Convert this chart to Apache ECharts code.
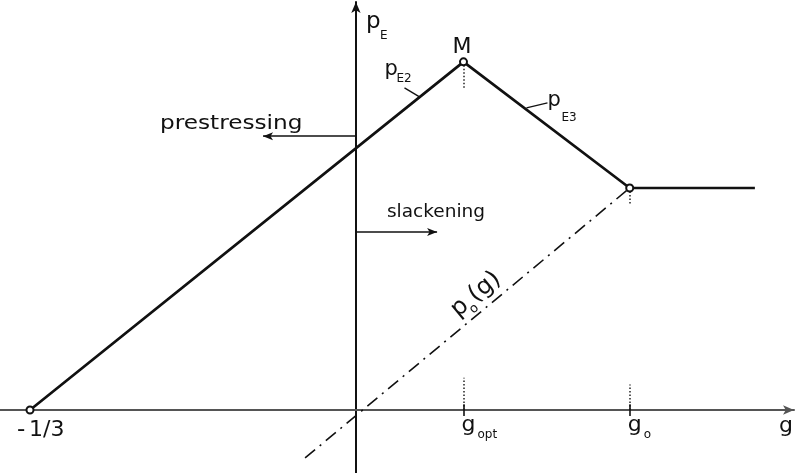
<!DOCTYPE html>
<html>
<head>
<meta charset="utf-8">
<script src="https://cdn.jsdelivr.net/npm/echarts@6/dist/echarts.min.js"></script>
<style>
  html, body { margin: 0; padding: 0; background: #fff; }
  #chart { width: 795px; height: 473px; }
</style>
</head>
<body>
<div id="chart"></div>
<script>
// Effective prestress p_E as a function of the slackness g
const gKnots = [-1 / 3, 0.110, 0.280, 0.408];   // -1/3, g_opt, g_o, end of plateau
const pKnots = [0, 0.356, 0.227, 0.227];

// reference line p_o(g) (dash-dot)
const p0G = [-0.052, 0.280];
const p0P = [-0.049, 0.227];

// axis extents
const gRange = [-0.364, 0.448];
const pRange = [-0.0644, 0.4172];

// marked abscissae and their labels
const tickG = [-1 / 3, 0.110, 0.280];
const tickMain = ['-1/3', 'g', 'g'];
const tickSub = ['', 'opt', 'o'];

// direction arrows: level on the p axis and length along g
const prestressArrow = { p: 0.280, g: -0.095, text: 'prestressing' };
const slackArrow = { p: 0.182, g: 0.083, text: 'slackening' };

// short dotted guides at g_opt and g_o
const guideUp = [0.033, 0.026];       // height above the g axis
const guideDown = [0.027, 0.018];     // drop below M / the knee

const FONT = '"DejaVu Sans", sans-serif';
const INK = '#111';

const chart = echarts.init(document.getElementById('chart'), null, { renderer: 'canvas' });

function seg(a, b) {
  return [{ coord: a, symbol: 'none' }, { coord: b, symbol: 'none' }];
}

const markData = [
  seg([gKnots[1], 0], [gKnots[1], guideUp[0]]),
  seg([gKnots[2], 0], [gKnots[2], guideUp[1]]),
  seg([gKnots[1], pKnots[1]], [gKnots[1], pKnots[1] - guideDown[0]]),
  seg([gKnots[2], pKnots[2]], [gKnots[2], pKnots[2] - guideDown[1]])
];

const arrows = [
  [{ coord: [0, prestressArrow.p], symbol: 'none' }, { coord: [prestressArrow.g, prestressArrow.p], symbol: 'arrow' }],
  [{ coord: [0, slackArrow.p], symbol: 'none' }, { coord: [slackArrow.g, slackArrow.p], symbol: 'arrow' }]
];

const tickMarks = tickG.slice(1).map(g => seg([g, -0.006], [g, 0.006]));

const option = {
  animation: false,
  backgroundColor: '#fff',
  grid: { left: 0, right: 1, top: 2, bottom: 0, containLabel: false },
  xAxis: {
    type: 'value', min: gRange[0], max: gRange[1],
    axisLine: { onZero: true, symbol: ['none', 'arrow'], symbolSize: [7, 11],
      lineStyle: { color: '#555', width: 2 } },
    axisTick: { show: false }, axisLabel: { show: false }, splitLine: { show: false }
  },
  yAxis: {
    type: 'value', min: pRange[0], max: pRange[1],
    axisLine: { onZero: true, symbol: ['none', 'arrow'], symbolSize: [7, 11],
      lineStyle: { color: '#111', width: 2 } },
    axisTick: { show: false }, axisLabel: { show: false }, splitLine: { show: false }
  },
  series: [
    {
      type: 'line',
      data: gKnots.map((g, i) => ({ value: [g, pKnots[i]], symbol: i < 3 ? 'emptyCircle' : 'none' })),
      symbolSize: 7,
      itemStyle: { color: INK, borderColor: INK, borderWidth: 1.3 },
      lineStyle: { color: INK, width: 2.7 },
      z: 5
    },
    {
      type: 'line',
      data: p0G.map((g, i) => [g, p0P[i]]),
      symbol: 'none',
      lineStyle: { color: INK, width: 1.6, type: [13, 6, 2, 6] },
      z: 3
    },
    {
      type: 'line', data: [], symbol: 'none',
      markLine: {
        silent: true, animation: false, symbol: ['none', 'none'], label: { show: false },
        lineStyle: { color: '#222', width: 1.5, type: [1.5, 2] },
        data: markData
      }
    },
    {
      type: 'line', data: [], symbol: 'none',
      markLine: {
        silent: true, animation: false, symbol: ['none', 'arrow'], symbolSize: [6, 10], label: { show: false },
        lineStyle: { color: INK, width: 1.6, type: 'solid' },
        data: arrows
      }
    },
    {
      type: 'line', data: [], symbol: 'none',
      markLine: {
        silent: true, animation: false, symbol: ['none', 'none'], label: { show: false },
        lineStyle: { color: INK, width: 1.6, type: 'solid' },
        data: tickMarks
      }
    }
  ]
};
chart.setOption(option);

// text placed by its alphabetic baseline (zrender draws with a middle baseline)
function label(x, base, str, size, sx) {
  const el = {
    type: 'text', x: x, y: base - 0.35 * size, silent: true,
    style: { text: str, font: size + 'px ' + FONT, fontSize: size, fontFamily: FONT, fill: INK,
      align: 'left', textAlign: 'left', verticalAlign: 'middle', textVerticalAlign: 'middle' }
  };
  if (sx) { el.scaleX = sx; }
  return el;
}
function leader(a, b) {
  return { type: 'line', silent: true, shape: { x1: a[0], y1: a[1], x2: b[0], y2: b[1] },
    style: { stroke: INK, lineWidth: 1.3 } };
}
const at = (g, p) => chart.convertToPixel({ gridIndex: 0 }, [g, p]);

const els = [];
const axisTop = at(0, pRange[1]);
els.push(label(axisTop[0] + 10, axisTop[1] + 28, 'p', 23));
els.push(label(axisTop[0] + 24, axisTop[1] + 38, 'E', 12));

const M = at(gKnots[1], pKnots[1]);
els.push(label(M[0] - 11, M[1] - 7, 'M', 22));
els.push(label(M[0] - 79, M[1] + 15, 'p', 21));
els.push(label(M[0] - 67, M[1] + 21, 'E2', 12));
els.push(leader([M[0] - 59, M[1] + 26], [M[0] - 44, M[1] + 35]));
els.push(label(M[0] + 84, M[1] + 46, 'p', 21));
els.push(label(M[0] + 98, M[1] + 60, 'E3', 12));
els.push(leader([M[0] + 63, M[1] + 46], [M[0] + 84, M[1] + 41]));

// marked abscissae
tickG.forEach((g, i) => {
  const q = at(g, 0);
  if (i === 0) {
    els.push(label(q[0] - 13, q[1] + 28, tickMain[i].charAt(0), 23));
    els.push(label(q[0] - 1, q[1] + 28, tickMain[i].slice(1), 22));
  } else {
    els.push(label(q[0] - 2, q[1] + 23, tickMain[i], 22));
    els.push(label(q[0] + 14, q[1] + 29, tickSub[i], 12));
  }
});
const gEnd = at(gRange[1], 0);
els.push(label(gEnd[0] - 15, gEnd[1] + 24, 'g', 22));

// arrow captions
const pa = at(0, prestressArrow.p);
els.push(label(pa[0] - 196, pa[1] - 5, prestressArrow.text, 20, 1.16));
const sa = at(0, slackArrow.p);
els.push(label(sa[0] + 31, sa[1] - 13, slackArrow.text, 18.5));

// p_o(g) written along the dash-dot line
const a0 = at(p0G[0], p0P[0]);
const a1 = at(p0G[1], p0P[1]);
const ang = Math.atan2(a0[1] - a1[1], a1[0] - a0[0]);
const tPos = 0.56;
const anchor = [a0[0] + (a1[0] - a0[0]) * tPos, a0[1] + (a1[1] - a0[1]) * tPos];
els.push({
  type: 'group', x: anchor[0], y: anchor[1], rotation: ang, silent: true,
  children: [
    label(-29, -8, 'p', 24),
    label(-15, -2, 'o', 13),
    label(-6, -8, '(g)', 24)
  ]
});

chart.setOption({ graphic: { elements: els } });
</script>
</body>
</html>
